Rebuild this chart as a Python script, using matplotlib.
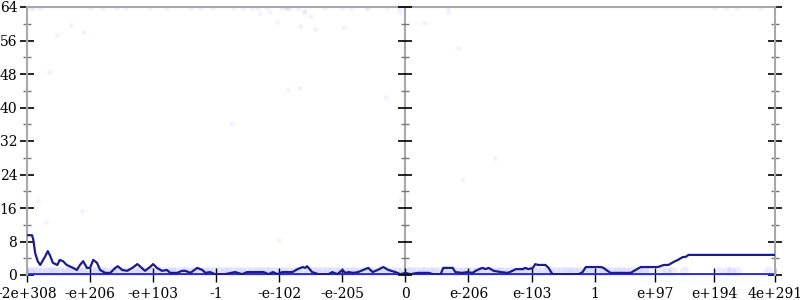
import numpy as np
from matplotlib import pyplot as plt

# x is position along the ordered float axis (one unit = one tick step)
tick_pos = [-6, -5, -4, -3, -2, -1, 0, 1, 2, 3, 3.95, 4.90, 5.86]
tick_lab = ['-2e+308', '-e+206', '-e+103', '-1', '-e-102', '-e-205', '0',
            'e-206', 'e-103', '1', 'e+97', 'e+194', '4e+291']

# smoothed line
line_x = [-5.98, -5.92, -5.90, -5.87, -5.83, -5.79, -5.71, -5.67, -5.63, -5.59,
          -5.52, -5.48, -5.43, -5.37, -5.27, -5.21, -5.16, -5.11, -5.05, -5.00,
          -4.95, -4.89, -4.84, -4.76, -4.68, -4.60, -4.56, -4.49, -4.41, -4.33,
          -4.25, -4.21, -4.13, -4.05, -4.00, -3.94, -3.86, -3.78, -3.73, -3.62,
          -3.54, -3.49, -3.41, -3.30, -3.22, -3.17, -3.10, -3.02, -2.86, -2.70,
          -2.59, -2.51, -2.25, -2.17, -2.10, -2.03, -1.95, -1.79, -1.71, -1.63,
          -1.59, -1.56, -1.48, -1.38, -1.22, -1.16, -1.08, -1.00, -0.95, -0.90,
          -0.83, -0.75, -0.67, -0.59, -0.52, -0.44, -0.35, -0.27, -0.16, -0.08,
          0.00, 0.08, 0.19, 0.37, 0.44, 0.56, 0.60, 0.75, 0.79, 0.90,
          0.98, 1.06, 1.14, 1.22, 1.27, 1.32, 1.40, 1.51, 1.62, 1.70,
          1.75, 1.86, 1.90, 1.95, 2.02, 2.06, 2.10, 2.22, 2.27, 2.33,
          2.75, 2.81, 2.86, 3.10, 3.14, 3.25, 3.57, 3.65, 3.73, 4.00,
          4.10, 4.17, 4.25, 4.32, 4.40, 4.44, 4.49, 5.86]
line_y = [9.5, 9.5, 8.4, 5.2, 3.3, 2.4, 4.5, 5.7, 4.5, 2.9,
          2.4, 3.6, 3.3, 2.4, 1.7, 1.2, 2.4, 3.3, 1.7, 1.7,
          3.6, 2.9, 1.2, 0.5, 0.5, 1.7, 2.1, 1.2, 1.0, 1.7,
          2.6, 2.1, 1.0, 1.9, 2.6, 1.7, 1.0, 1.2, 0.5, 0.5,
          1.0, 1.0, 0.5, 1.7, 1.2, 0.5, 0.7, 0.2, 0.2, 0.7,
          0.2, 0.7, 0.7, 0.2, 0.7, 0.2, 0.7, 0.7, 1.4, 1.9,
          1.7, 2.1, 0.7, 0.2, 0.2, 0.7, 0.2, 1.2, 0.5, 0.7,
          0.5, 0.7, 1.2, 1.7, 0.7, 1.2, 1.9, 1.2, 0.7, 0.2,
          0.5, 0.2, 0.5, 0.5, 0.2, 0.2, 1.7, 1.7, 0.7, 0.5,
          0.7, 0.5, 1.2, 1.7, 1.4, 1.7, 1.0, 0.7, 0.5, 1.0,
          1.4, 1.4, 1.7, 1.4, 1.7, 2.6, 2.4, 2.4, 1.7, 0.2,
          0.2, 0.7, 1.9, 1.9, 1.7, 0.5, 0.5, 1.2, 1.9, 1.9,
          2.4, 2.4, 3.1, 3.6, 4.3, 4.3, 4.8, 4.8]

# scattered outliers
out_x = [-5.95, -5.90, -5.80, -5.52, -5.30, -5.10, -5.00, -4.80, -4.57, -4.43,
         -4.05, -3.78, -3.40, -3.25, -3.05, -2.73, -2.57, -2.43, -2.33, -2.30,
         -2.19, -2.15, -2.03, -1.95, -1.90, -1.87, -1.84, -1.70, -1.67, -1.61,
         -1.59, -1.49, -1.43, -1.28, -1.00, -0.98, -0.87, -0.63, -0.60, -0.29,
         -0.10, -0.08, 0.29, 0.67, 0.67, 0.84, 4.89, 5.08, 5.25, 5.63,
         -2.75, -1.86, -1.69, -0.30, -5.65, -5.83, -5.70, -5.13]
out_y = [63.7, 63.7, 63.7, 57.3, 59.7, 58.0, 63.7, 63.7, 63.7, 63.7,
         63.7, 63.7, 63.7, 63.7, 63.7, 63.7, 63.7, 63.7, 63.7, 62.6,
         63.7, 62.8, 60.4, 63.7, 63.7, 63.7, 63.7, 63.7, 59.5, 62.8,
         63.0, 61.9, 58.7, 63.7, 63.7, 59.2, 63.7, 63.7, 63.7, 63.7,
         63.7, 62.8, 60.2, 63.7, 62.8, 54.2, 63.7, 63.7, 63.7, 63.7,
         36.1, 44.2, 44.7, 42.5, 48.5, 17.7, 12.7, 15.3]
mid_x = [-2.00, -0.08, 0.90, 1.42]
mid_y = [8.4, 17.9, 23.0, 28.0]

# dense bands at 0 and 1
zero_x = [-5.99, -5.7, -5.4, -5.1, -4.8, -4.5, -4.2, -3.9, -3.6, -3.3,
          -3.0, -2.7, -2.4, -2.1, -1.8, -1.5, -1.2, -0.9, -0.6, -0.3,
          0.0, 0.3, 0.6, 0.9, 1.2, 1.5, 1.8, 2.1, 2.4, 2.7,
          3.0, 3.3, 3.6, 3.9, 4.2, 4.5, 4.8, 5.1, 5.4, 5.86]
one_x = [-5.97, -5.91, -5.84, -5.77, -5.69, -5.62, -5.55, -5.47, -5.40, -5.33,
         -5.26, -5.18, -5.11, -5.04, -4.96, -4.89, -4.81, -4.74, -4.66, -4.59,
         -4.52, -4.44, -4.37, -4.29, -4.22, -4.15, -4.07, -4.00, -3.92, -3.85,
         -3.77, -3.70, -3.63, -3.55, -3.48, -3.40, -3.33, -3.25, -3.18, -3.11,
         -3.03, -2.96, -2.88, -2.81, -2.73, -2.66, -2.59, -2.51, -2.44, -2.36,
         -2.29, -2.21, -2.14, -2.07, -1.99, -1.92, -1.84, -1.77, -1.70, -1.62,
         -1.55, -1.47, -1.40, -1.33, -1.25, -1.18, -1.10, -1.03, -0.95, -0.88,
         -0.81, -0.73, -0.66, -0.58, -0.51, -0.44, -0.36, -0.29, -0.21, -0.14,
         -0.06, 0.02, 0.09, 0.17, 0.24, 0.31, 0.39, 0.46, 0.54, 0.61,
         0.68, 0.76, 0.83, 0.91, 0.98, 1.06, 1.13, 1.20, 1.28, 1.35,
         1.43, 1.50, 1.57, 1.65, 1.72, 1.80, 1.87, 1.94, 2.02, 2.09,
         2.17, 2.24, 2.31, 2.39, 2.46, 2.54, 2.61, 2.68, 2.76, 2.83,
         2.91, 2.98, 3.05, 3.13, 3.20, 3.28, 3.35, 3.42, 3.50, 3.57,
         3.65, 3.72, 3.79, 3.87, 4.05, 4.14, 4.22, 4.41, 4.97, 5.10,
         5.17, 5.25, 5.75]

plt.rcParams['font.family'] = 'DejaVu Serif'
fig = plt.figure(figsize=(8, 3), dpi=100)
ax = fig.add_axes([27/800, 25/300, 748/800, 268/300])

blue = '#3a3aff'
ax.scatter(one_x, [0.9]*len(one_x), s=45, color=blue, alpha=0.09, linewidths=0)
ax.plot(zero_x, [0]*len(zero_x), color='#2b2bdd', lw=3.5, solid_capstyle='butt', zorder=2)
ax.scatter(out_x, out_y, s=13, color=blue, alpha=0.06, linewidths=0)
ax.scatter(mid_x, mid_y, s=13, color=blue, alpha=0.06, linewidths=0)
ax.plot(line_x, line_y, color='#1c1c8c', lw=1.6, zorder=3)

ax.set_xlim(-6, 5.86)
ax.set_ylim(0, 64)
ax.set_yticks(range(0, 65, 8))
ax.set_yticks(range(4, 64, 8), minor=True)
ax.set_xticks(tick_pos)
ax.set_xticklabels(tick_lab)

for s in ['left', 'right', 'top']:
    ax.spines[s].set_color('#a8a8a8')
    ax.spines[s].set_linewidth(1.5)
ax.spines['bottom'].set_visible(False)
ax.axvline(0, color='#a8a8a8', lw=1.5, zorder=1)

ax.tick_params(axis='y', which='major', direction='inout', length=10, width=1.2,
               color='black', labelsize=10, right=True, pad=2)
ax.tick_params(axis='y', which='minor', direction='inout', length=6, width=1,
               color='#777777', right=True)
ax.tick_params(axis='x', which='major', direction='inout', length=10, width=1,
               color='black', labelsize=10, pad=4)

# ticks on the central axis
ax.plot([0]*9, range(0, 65, 8), ls='none', marker='_', ms=10, mew=1.2, color='black',
        clip_on=False, zorder=4)
ax.plot([0]*8, range(4, 64, 8), ls='none', marker='_', ms=6, mew=1, color='#777777',
        clip_on=False, zorder=4)

fig.savefig('out.png', dpi=100)
